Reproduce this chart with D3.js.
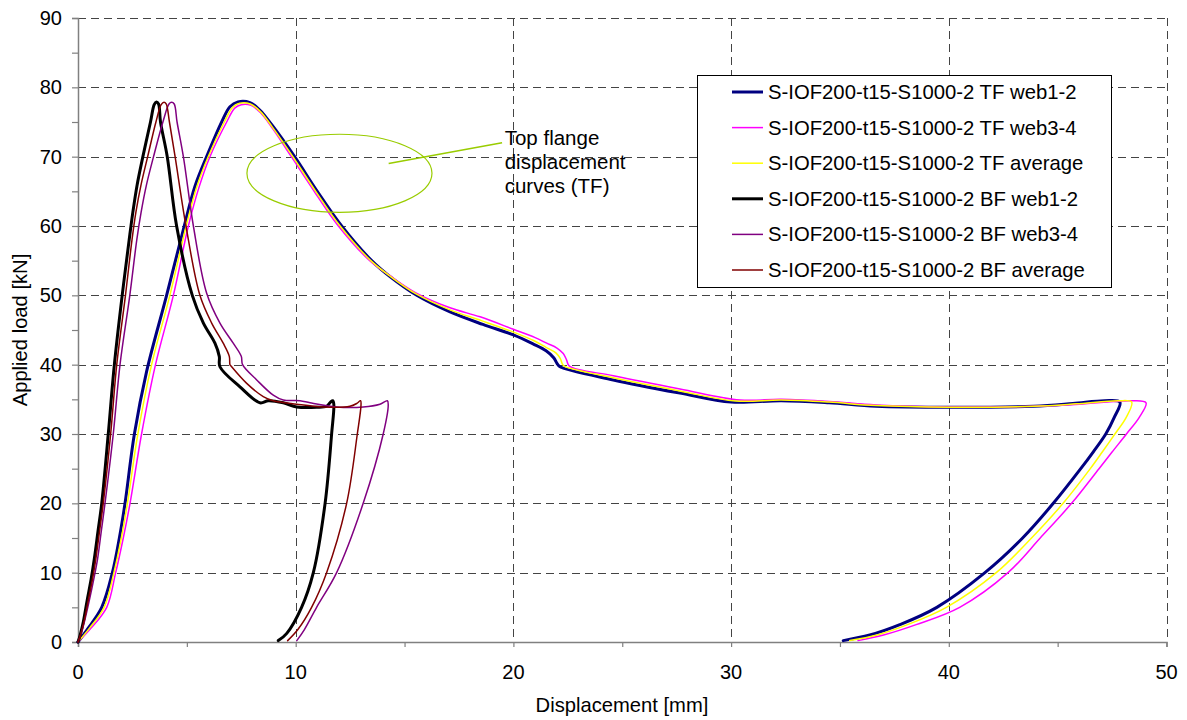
<!DOCTYPE html>
<html>
<head>
<meta charset="utf-8">
<script src="https://cdn.jsdelivr.net/npm/d3@7"></script>
<style>
  html, body { margin: 0; padding: 0; background: #fff; }
  svg { display: block; font-family: "Liberation Sans", Arial, sans-serif; }
</style>
</head>
<body>
<svg id="chart" width="1187" height="720"></svg>
<script>
// Load–displacement curves, top flange (TF) and bottom flange (BF), [mm, kN]
const tfWeb12 = [[0,0],[0.47,2],[1.09,5],[1.58,10],[1.9,15],[2.16,20],[2.59,30],[3.15,39],[4.07,50],[4.88,60],[5.37,65.7],[5.91,70],[6.6,75],[6.98,77.2],[7.35,77.9],[7.9,77.8],[8.36,76.7],[8.9,74.6],[9.95,70],[10.99,65],[12.11,60],[13.49,55],[14.33,52.7],[15.56,50],[17.09,47.6],[18.6,45.8],[20,44.3],[20.9,43.0],[21.5,42.0],[21.85,41.0],[22.02,40.1],[22.14,39.7],[24.59,37.8],[27.65,35.9],[30,34.6],[32.3,34.8],[34.5,34.5],[36.65,34.0],[40,33.85],[43.9,34.0],[45.7,34.4],[47.16,34.8],[47.86,34.6],[47.6,32.4],[47.21,30],[46.63,27.4],[46.06,25],[44.8,20],[43.39,15],[41.66,10],[39.45,5],[37.75,2.5],[36.37,1],[35.15,0.2]];
const tfWeb34 = [[0,0],[0.6,2],[1.32,5],[1.73,10],[2.08,15],[2.39,20],[2.92,30],[3.56,40],[4.38,50],[5.07,60],[5.55,65.5],[6.06,70],[6.83,75],[7.2,77.0],[7.5,77.5],[7.95,77.4],[8.4,76.3],[8.95,74.0],[9.8,70],[10.85,65],[11.96,60],[13.4,55],[14.3,52.9],[15.5,50.4],[17.09,48.2],[18.47,46.9],[20,45.1],[21.0,43.9],[21.53,43.1],[22.0,42.4],[22.29,41.6],[22.44,40.7],[22.57,39.8],[24.59,38.4],[27.65,36.5],[30.41,34.9],[32.3,35.0],[34.5,34.7],[36.65,34.2],[40,33.9],[43.9,34.0],[46,34.3],[48.45,34.8],[49.06,34.5],[48.75,32.4],[48.16,30],[47.5,27.4],[46.9,25],[45.64,20],[44.2,15],[42.72,10],[40.5,5],[38.5,2.5],[37,1],[35.83,0.2]];
const tfAverage = [[0,0],[0.53,2],[1.2,5],[1.65,10],[1.99,15],[2.27,20],[2.75,30],[3.38,40],[4.22,50],[4.97,60],[5.45,65.6],[5.98,70],[6.72,75],[7.1,77.1],[7.42,77.7],[7.92,77.6],[8.38,76.5],[8.92,74.3],[9.87,70],[10.92,65],[12.04,60],[13.45,55],[14.32,52.8],[15.53,50.2],[17.09,47.9],[18.53,46.35],[20,44.7],[20.95,43.45],[21.5,42.5],[21.95,41.7],[22.15,40.9],[22.25,40.1],[22.36,39.75],[24.59,38.1],[27.65,36.2],[30.2,34.75],[32.3,34.9],[34.5,34.6],[36.65,34.1],[40,33.87],[43.9,34.0],[45.85,34.35],[47.8,34.8],[48.4,34.6],[48.15,32.4],[47.63,30],[47.05,27.4],[46.5,25],[45.25,20],[43.8,15],[42.18,10],[39.89,5],[38.1,2.5],[36.7,1],[35.45,0.2]];
const bfWeb12 = [[0,0],[0.1,1],[0.25,3],[0.42,6],[0.6,9],[0.75,12],[0.92,16],[1.09,20],[1.39,30],[1.67,40],[2.03,50],[2.35,58],[2.52,62],[2.72,66],[2.98,70],[3.33,75],[3.5,77.5],[3.6,77.9],[3.7,77.6],[3.79,75],[4.1,70],[4.53,60],[5.25,50],[5.76,46],[6.29,43.1],[6.49,41.2],[6.52,39.7],[7.44,36.8],[8.36,34.5],[8.74,34.8],[9.43,34.5],[10.05,33.9],[10.96,33.85],[11.42,34.0],[11.6,34.6],[11.7,34.8],[11.75,34.3],[11.65,30],[11.35,20],[10.81,10],[10.27,5],[9.59,1.25],[9.2,0.2]];
const bfWeb34 = [[0,0],[0.12,1],[0.3,3],[0.52,6],[0.72,9],[0.9,12],[1.07,16],[1.24,20],[1.62,30],[1.93,40],[2.38,50],[2.7,58],[2.9,62],[3.15,66],[3.47,70],[3.9,75],[4.18,77.6],[4.3,77.85],[4.42,77.6],[4.55,75],[4.84,70],[5.3,60],[5.91,50.3],[6.52,46],[7.13,43.1],[7.5,41.2],[7.56,40],[8.21,37.8],[8.97,35.6],[9.43,34.9],[10.2,34.8],[10.66,34.5],[11.88,33.9],[13.1,33.9],[13.87,34.3],[14.21,34.8],[14.25,34.2],[14.02,30],[13.1,20],[11.88,10],[10.96,5],[10.4,1.8],[10.05,0.2]];
const bfAverage = [[0,0],[0.11,1],[0.28,3],[0.47,6],[0.66,9],[0.82,12],[0.99,16],[1.16,20],[1.5,30],[1.78,40],[2.18,50],[2.48,58],[2.66,62],[2.9,66],[3.2,70],[3.58,75],[3.82,77.5],[3.95,77.85],[4.05,77.6],[4.2,75],[4.46,70],[4.96,60],[5.6,50],[6.14,46],[6.67,43.1],[6.95,41.2],[6.98,40],[7.03,39.8],[7.75,37.3],[8.51,35.4],[8.97,34.8],[10.05,34.3],[11.27,33.9],[12.49,34.0],[12.8,34.4],[12.98,34.8],[13.0,34.2],[12.83,30],[12.34,20],[11.42,10],[10.73,5],[10.1,1.8],[9.63,0.2]];

const seriesNames = [
  "S-IOF200-t15-S1000-2 TF web1-2",
  "S-IOF200-t15-S1000-2 TF web3-4",
  "S-IOF200-t15-S1000-2 TF average",
  "S-IOF200-t15-S1000-2 BF web1-2",
  "S-IOF200-t15-S1000-2 BF web3-4",
  "S-IOF200-t15-S1000-2 BF average"
];
const xTicks = [0, 10, 20, 30, 40, 50];
const xMinorTicks = [0, 5, 10, 15, 20, 25, 30, 35, 40, 45, 50];
const yTicks = [0, 10, 20, 30, 40, 50, 60, 70, 80, 90];
const yMinorTicks = [0, 5, 10, 15, 20, 25, 30, 35, 40, 45, 50, 55, 60, 65, 70, 75, 80, 85, 90];
const xTitle = "Displacement [mm]";
const yTitle = "Applied load [kN]";
const noteLines = ["Top flange", "displacement", "curves (TF)"];

const series = [
  { name: seriesNames[0], data: tfWeb12,   color: "#000080", width: 3 },
  { name: seriesNames[1], data: tfWeb34,   color: "#ff00ff", width: 1.5 },
  { name: seriesNames[2], data: tfAverage, color: "#ffff00", width: 1.5 },
  { name: seriesNames[3], data: bfWeb12,   color: "#000000", width: 3 },
  { name: seriesNames[4], data: bfWeb34,   color: "#800080", width: 1.5 },
  { name: seriesNames[5], data: bfAverage, color: "#800000", width: 1.5 }
];

const svg = d3.select("#chart");
const plot = { left: 78, right: 1166.5, top: 18, bottom: 642 };

const x = d3.scaleLinear().domain([0, 50]).range([plot.left, plot.right]);
const y = d3.scaleLinear().domain([0, 90]).range([plot.bottom, plot.top]);

// Dashed grid
const grid = svg.append("g").attr("stroke", "#444").attr("stroke-width", 1)
  .attr("stroke-dasharray", "8,5").attr("fill", "none");
grid.selectAll("line.h").data(yTicks.filter(d => d > 0)).join("line")
  .attr("class", "h")
  .attr("x1", plot.left).attr("x2", plot.right)
  .attr("y1", d => Math.round(y(d)) + 0.5).attr("y2", d => Math.round(y(d)) + 0.5);
grid.selectAll("line.v").data(xTicks.filter(d => d > 0)).join("line")
  .attr("class", "v")
  .attr("y1", plot.top).attr("y2", plot.bottom)
  .attr("x1", d => Math.round(x(d)) + 0.5).attr("x2", d => Math.round(x(d)) + 0.5);

// Axes
const xAxis = d3.axisBottom(x).tickValues(xMinorTicks).tickSize(5).tickFormat("");
const yAxis = d3.axisLeft(y).tickValues(yMinorTicks).tickSize(6).tickFormat("");
const gx = svg.append("g").attr("transform", `translate(0,${plot.bottom})`).call(xAxis);
const gy = svg.append("g").attr("transform", `translate(${plot.left},0)`).call(yAxis);
[gx, gy].forEach(g => {
  g.select(".domain").attr("stroke", "#808080").attr("stroke-width", 1.5);
  g.selectAll(".tick line").attr("stroke", "#808080").attr("stroke-width", 1.2);
});

svg.append("g").selectAll("text").data(xTicks).join("text")
  .attr("x", d => x(d)).attr("y", 679)
  .attr("text-anchor", "middle").attr("font-size", 20).attr("fill", "#000")
  .text(d => d);
svg.append("g").selectAll("text").data(yTicks).join("text")
  .attr("x", 62).attr("y", d => y(d) + 7)
  .attr("text-anchor", "end").attr("font-size", 20).attr("fill", "#000")
  .text(d => d);

svg.append("text").attr("x", 622).attr("y", 712).attr("text-anchor", "middle")
  .attr("font-size", 20.2).attr("fill", "#000").text(xTitle);
svg.append("text").attr("transform", `translate(27,${(plot.top + plot.bottom) / 2}) rotate(-90)`)
  .attr("text-anchor", "middle").attr("font-size", 20.2).attr("fill", "#000").text(yTitle);

// Curves
const line = d3.line().x(d => x(d[0])).y(d => y(d[1])).curve(d3.curveCatmullRom.alpha(0.5));
svg.append("g").selectAll("path").data(series).join("path")
  .attr("d", d => line(d.data))
  .attr("fill", "none")
  .attr("stroke", d => d.color)
  .attr("stroke-width", d => d.width)
  .attr("stroke-linejoin", "round")
  .attr("stroke-linecap", "round");

// Annotation around the top-flange curves
const noteColor = "#99cc00";
const ell = { cx: 12.01, cy: 67.6, rx: 4.25, ry: 5.63 };
svg.append("ellipse")
  .attr("cx", x(ell.cx)).attr("cy", y(ell.cy))
  .attr("rx", x(ell.rx) - x(0)).attr("ry", y(0) - y(ell.ry))
  .attr("fill", "none").attr("stroke", noteColor).attr("stroke-width", 1.2);
svg.append("line")
  .attr("x1", x(14.27)).attr("y1", y(69.0))
  .attr("x2", x(19.48)).attr("y2", y(72.0))
  .attr("stroke", noteColor).attr("stroke-width", 1.5);
svg.append("g").selectAll("text").data(noteLines).join("text")
  .attr("x", x(19.6)).attr("y", (d, i) => 145 + i * 24)
  .attr("font-size", 20.5).attr("fill", "#000").text(d => d);

// Legend
const legend = svg.append("g");
legend.append("rect").attr("x", 697.5).attr("y", 75.5).attr("width", 414).attr("height", 212)
  .attr("fill", "#fff").attr("stroke", "#000").attr("stroke-width", 1);
const rows = legend.selectAll("g.row").data(series).join("g").attr("class", "row")
  .attr("transform", (d, i) => `translate(0,${92 + i * 35.6})`);
rows.append("line").attr("x1", 732).attr("x2", 763).attr("y1", 0).attr("y2", 0)
  .attr("stroke", d => d.color).attr("stroke-width", d => d.width);
rows.append("text").attr("x", 768).attr("y", 7).attr("font-size", 20.3).attr("fill", "#000")
  .text(d => d.name);
</script>
</body>
</html>
